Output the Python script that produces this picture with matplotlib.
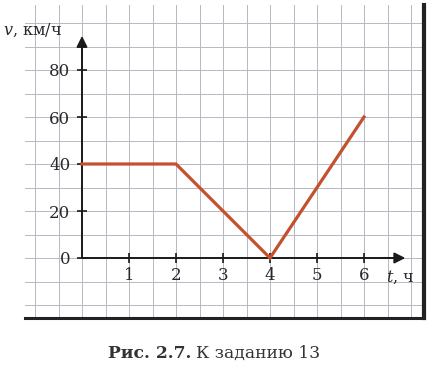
import numpy as np
import matplotlib
matplotlib.use("Agg")
import matplotlib.pyplot as plt

plt.rcParams["font.family"] = "DejaVu Serif"
plt.rcParams["mathtext.fontset"] = "dejavuserif"

# speed vs time
t_hours = [0, 2, 4, 6]
v_kmh = [40, 40, 0, 60]

x_ticks = [1, 2, 3, 4, 5, 6]
y_ticks = [0, 20, 40, 60, 80]
x_grid = np.arange(-1, 7.01, 0.5)
y_grid = np.arange(-20, 100.1, 10)

W, H = 437, 368
fig = plt.figure(figsize=(W / 100, H / 100), dpi=100)
rect = [25 / W, 1 - 318 / H, (424 - 25) / W, (318 - 5) / H]
xlim = ((25 - 82) / 47, (424 - 82) / 47)
ylim = ((258 - 318) * 20 / 47, (258 - 5) * 20 / 47)

# background: squared paper with heavy right/bottom frame
bg = fig.add_axes(rect)
bg.set_xlim(xlim)
bg.set_ylim(ylim)
for gx in x_grid:
    bg.axvline(gx, color="#b8b8c4", lw=0.7, zorder=0)
for gy in y_grid:
    bg.axhline(gy, color="#b8b8c4", lw=0.7, zorder=0)
bg.spines["top"].set_visible(False)
bg.spines["left"].set_visible(False)
bg.spines["right"].set_linewidth(3.0)
bg.spines["bottom"].set_linewidth(2.2)
bg.spines["right"].set_color("#222222")
bg.spines["bottom"].set_color("#222222")
bg.set_xticks([])
bg.set_yticks([])

# foreground: the coordinate axes through the origin
ax = fig.add_axes(rect)
ax.patch.set_alpha(0)
ax.set_xlim(xlim)
ax.set_ylim(ylim)
ax.spines["top"].set_visible(False)
ax.spines["right"].set_visible(False)
ax.spines["left"].set_position(("data", 0))
ax.spines["bottom"].set_position(("data", 0))
ax.spines["left"].set_bounds(0, 92)
ax.spines["bottom"].set_bounds(0, 6.8)
for s in ("left", "bottom"):
    ax.spines[s].set_linewidth(1.4)
    ax.spines[s].set_color("#1a1a1a")

ax.annotate("", xy=(0, 94.5), xytext=(0, 85),
            arrowprops=dict(arrowstyle="-|>", color="#1a1a1a", lw=1.4,
                            mutation_scale=16, shrinkA=0, shrinkB=0))
ax.annotate("", xy=(6.88, 0), xytext=(6.4, 0),
            arrowprops=dict(arrowstyle="-|>", color="#1a1a1a", lw=1.4,
                            mutation_scale=16, shrinkA=0, shrinkB=0))

ax.set_xticks(x_ticks)
ax.set_xticklabels([str(v) for v in x_ticks])
ax.set_yticks(y_ticks)
ax.set_yticklabels([str(v) for v in y_ticks])
ax.tick_params(axis="both", direction="inout", length=7, width=1.2,
               color="#1a1a1a", labelsize=12, labelcolor="#2a2a2a")
ax.tick_params(axis="x", pad=3)
ax.tick_params(axis="y", pad=5)

ax.plot(t_hours, v_kmh, color="#c4502e", lw=2.3, solid_joinstyle="miter",
        zorder=5)

fig.text(3 / W, 1 - 30 / H, r"$\mathit{v}$, км/ч", ha="left", va="center",
         fontsize=11.5, color="#2a2a2a")
fig.text(386 / W, 1 - 277 / H, r"$\mathit{t}$, ч", ha="left", va="center",
         fontsize=11.5, color="#2a2a2a")

# caption: bold figure number + regular text
cap1 = fig.text(108 / W, 1 - 358 / H, "Рис. 2.7.", ha="left", va="baseline",
                fontsize=12.3, weight="bold", color="#333333")
fig.canvas.draw()
bb = cap1.get_window_extent()
fig.text(bb.x1 / W + 5 / W, 1 - 358 / H, "К заданию 13", ha="left",
         va="baseline", fontsize=12.3, color="#333333")

fig.savefig("out.png", dpi=100)
